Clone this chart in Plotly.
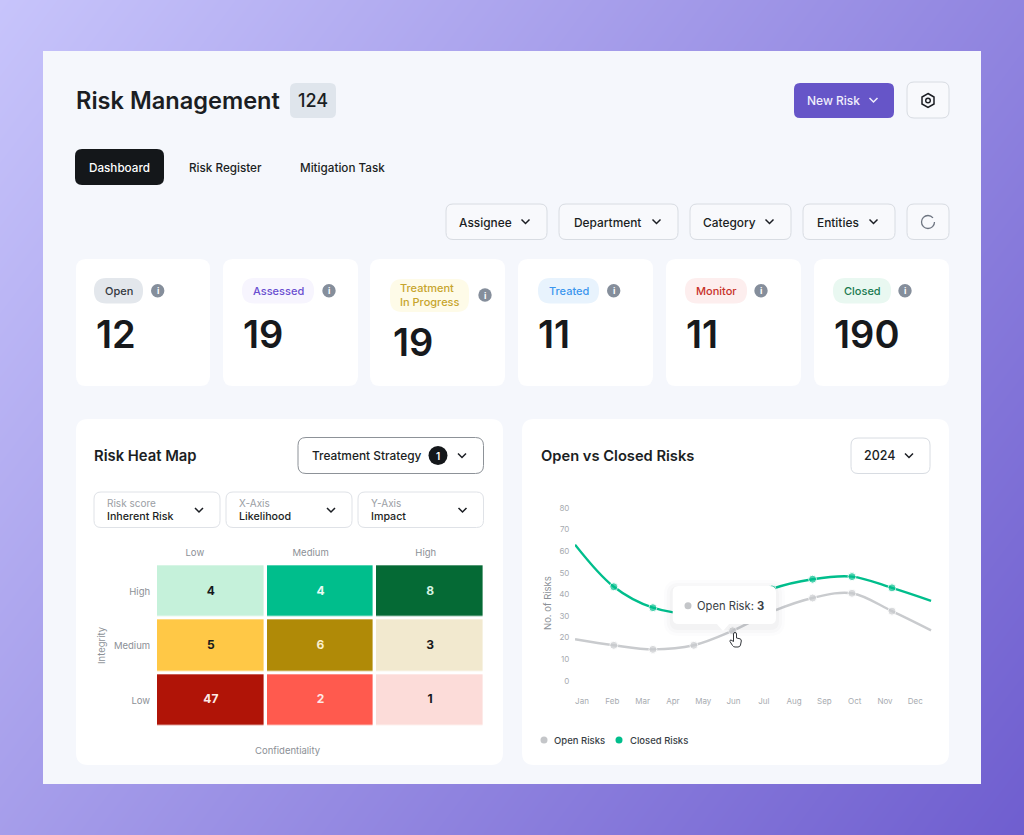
import plotly.graph_objects as go

# dashboard content
status_names = ["Open", "Assessed", "Treatment<br>In Progress", "Treated", "Monitor", "Closed"]
status_counts = ["12", "19", "19", "11", "11", "190"]
filter_names = ["Assignee", "Department", "Category", "Entities"]
tab_names = ["Dashboard", "Risk Register", "Mitigation Task"]
dropdown_labels = ["Risk score", "X-Axis", "Y-Axis"]
dropdown_values = ["Inherent Risk", "Likelihood", "Impact"]

# heat map
heat_columns = ["Low", "Medium", "High"]
heat_rows = ["Low", "Medium", "High"]
heat_low = [47, 2, 1]
heat_medium = [5, 6, 3]
heat_high = [4, 4, 8]
heat_shade_low = [6, 7, 8]
heat_shade_medium = [3, 4, 5]
heat_shade_high = [0, 1, 2]
heat_colors = ["#c5f1da", "#00be8c", "#056a35", "#ffc846", "#b08a07",
               "#f2e9cf", "#b01407", "#ff5a4e", "#fcdcd9"]
heat_text_colors = ["#17191c", "#e9fbf4", "#d5f3e2", "#17191c", "#fbf0cf",
                    "#17191c", "#fde9e6", "#fde9e6", "#17191c"]

# line chart, values
months = ["Jan", "Feb", "Mar", "Apr", "May", "Jun", "Jul", "Aug", "Sep", "Oct", "Nov", "Dec"]
month_ticks = [0, 1, 2, 3, 4, 5, 6, 7, 8, 9, 10, 11]
point_months = [-0.23, 1.05, 2.34, 3.69, 4.97, 6.27, 7.61, 8.91, 10.23, 11.52]
open_risks = [19.2, 16.4, 14.5, 16.4, 23.1, 32.0, 38.3, 40.5, 32.2, 23.3]
closed_risks = [63, 43.5, 33.8, 31, 33.5, 42.5, 47, 48.2, 43, 37]
marker_sizes = [0, 8, 8, 8, 8, 8, 8, 8, 8, 0]

FONT = "Inter"
INK = "#1b1e23"
GREY = "#8b9096"


def rr(x0, y0, x1, y1, r):
    return (f"M{x0 + r},{y0} L{x1 - r},{y0} Q{x1},{y0} {x1},{y0 + r} L{x1},{y1 - r} Q{x1},{y1} {x1 - r},{y1} "
            f"L{x0 + r},{y1} Q{x0},{y1} {x0},{y1 - r} L{x0},{y0 + r} Q{x0},{y0} {x0 + r},{y0} Z")


shapes = []
annotations = []


def box(x0, y0, x1, y1, r=8, fill="white", line=None, layer="below", width=1):
    shapes.append(dict(type="path", path=rr(x0, y0, x1, y1, r), xref="x2", yref="y2", layer=layer,
                       fillcolor=fill, line=dict(color=line or "rgba(0,0,0,0)", width=width)))


def dot(cx, cy, r, fill, layer="below"):
    shapes.append(dict(type="circle", x0=cx - r, x1=cx + r, y0=cy - r, y1=cy + r, xref="x2", yref="y2",
                       layer=layer, fillcolor=fill, line=dict(width=0)))


def chevron(cx, cy, color=INK):
    shapes.append(dict(type="path", path=f"M{cx - 4},{cy - 2} L{cx},{cy + 2} L{cx + 4},{cy - 2}", xref="x2", yref="y2",
                       layer="below", line=dict(color=color, width=1.5)))


def label(x, y, text, size=13, color=INK, weight=500, anchor="center", angle=0):
    # annotations sit 2px inside their anchor
    if anchor == "left":
        x -= 2
    annotations.append(dict(x=x, y=y, xref="x2", yref="y2", text=text, showarrow=False, xanchor=anchor,
                            yanchor="middle", textangle=angle, align="left",
                            font=dict(family=FONT, size=size, color=color, weight=weight)))


# main panel
box(43, 51, 981, 784, r=0, fill="#f5f7fc")

# header
label(75.5, 100, "Risk Management", size=23.6, weight=600, anchor="left")
box(290, 83, 336, 118, r=6, fill="#dfe5ec")
label(313, 100.5, "124", size=18)
box(794, 83, 894, 118, r=6, fill="#6655c8")
label(833, 100, "New Risk", size=12, color="#f0eefc")
chevron(873.5, 100, "#f0eefc")
box(907, 82, 949, 118, r=7, fill="#f8f9fc", line="#d8dce2")
shapes.append(dict(type="path", path="M928,93.5 L934,97 L934,104 L928,107.5 L922,104 L922,97 Z", xref="x2", yref="y2",
                   layer="below", line=dict(color=INK, width=1.5)))
shapes.append(dict(type="circle", x0=925.7, x1=930.3, y0=98.2, y1=102.8, xref="x2", yref="y2", layer="below",
                   line=dict(color=INK, width=1.4)))

# tabs
box(75, 149, 164, 185, r=7, fill="#14171a")
for name, cx, col in zip(tab_names, [119.5, 225.5, 342], ["white", INK, INK]):
    label(cx, 167.5, name, size=11.7, color=col)

# filters
filter_boxes = [(446, 547), (559, 678), (690, 791), (803, 895)]
filter_text_x = [485, 607, 729, 838]
for name, (x0, x1), tx in zip(filter_names, filter_boxes, filter_text_x):
    box(x0, 204, x1, 239.5, r=7, fill="#f8f9fc", line="#d8dce2")
    label(tx, 222, name, size=11.9)
    chevron(x1 - 21.5, 221.5)
box(907, 204, 949, 239.5, r=7, fill="#f8f9fc", line="#d8dce2")
shapes.append(dict(type="path",
                   path="M933,217.9 C931.7,216.4 929.9,215.5 928,215.5 C924.4,215.5 921.5,218.4 921.5,222 "
                        "C921.5,225.6 924.4,228.5 928,228.5 C931.6,228.5 934.5,225.6 934.5,222",
                   xref="x2", yref="y2", layer="below", line=dict(color="#6d7480", width=1.3)))

# status cards
card_edges = [(76, 210), (223, 358), (370, 505), (518, 653), (666, 801), (814, 949)]
pill_edges = [(94, 143), (242, 314), (390, 469), (538, 599), (685, 747), (833, 891)]
pill_fills = ["#e3e7ec", "#f7f5fe", "#fefbe8", "#e8f3fd", "#fdeeee", "#e9f8f1"]
pill_text = ["#33383f", "#6a4fd0", "#c7a52c", "#3b96ee", "#c8322a", "#1a7a50"]
info_x = [157.7, 329, 485, 613.7, 761, 905]
for i, name in enumerate(status_names):
    x0, x1 = card_edges[i]
    box(x0, 259, x1, 386, r=10)
    px0, px1 = pill_edges[i]
    tall = "<br>" in name
    py0, py1 = (279, 312) if tall else (278, 303.5)
    box(px0, py0, px1, py1, r=12.5, fill=pill_fills[i])
    if tall:
        annotations.append(dict(x=398, y=295, xref="x2", yref="y2", text=name, showarrow=False, xanchor="left",
                                yanchor="middle", align="left",
                                font=dict(family=FONT, size=11, color=pill_text[i], weight=500)))
    else:
        label((px0 + px1) / 2, 291, name, size=11, color=pill_text[i])
    iy = 295 if tall else 290.7
    dot(info_x[i], iy, 6.7, "#858e9b")
    label(info_x[i], iy, "i", size=9, color="white", weight=700)
    label(x0 + (22.5 if tall else 20), 342 if tall else 334, status_counts[i], size=38, weight=600, anchor="left",
          color="#17191c")

# lower panels
box(76, 419, 503, 765, r=12)
box(522, 419, 949, 765, r=12)
label(94, 456, "Risk Heat Map", size=14.8, weight=600, anchor="left")
label(541, 456, "Open vs Closed Risks", size=14.7, weight=600, anchor="left")

box(298, 437.5, 483.5, 473.5, r=8, fill="white", line="#8d9298")
label(367, 455.5, "Treatment Strategy", size=11.9)
dot(438, 455.5, 9.5, "#14171a")
label(438, 455.5, "1", size=10, color="white", weight=600)
chevron(462, 455.5)

box(851, 438, 930, 473.5, r=7, fill="white", line="#d8dce2")
label(879, 455.5, "2024", size=12.5)
chevron(909, 455.5)

dropdown_boxes = [(94, 220), (226, 352), (358, 483.5)]
for lab, val, (x0, x1) in zip(dropdown_labels, dropdown_values, dropdown_boxes):
    box(x0, 492, x1, 527.5, r=7, fill="white", line="#dfe2e7")
    label(x0 + 13, 503, lab, size=10, color="#9a9ea4", weight=400, anchor="left")
    label(x0 + 13, 516, val, size=10.7, anchor="left")
    chevron(x1 - 21, 510)

label(101, 645, "Integrity", size=9.5, color=GREY, weight=400, angle=-90)
label(288, 750, "Confidentiality", size=9.5, color=GREY, weight=400)
label(547, 603, "No. of Risks", size=9.5, color=GREY, weight=400, angle=-90)

# legend of the line chart
dot(544, 740, 3.5, "#c4c6c9")
label(554, 740, "Open Risks", size=9.5, color="#3a3f46", anchor="left")
dot(619, 740, 3.5, "#00be8c")
label(630, 740, "Closed Risks", size=9.5, color="#3a3f46", anchor="left")

# tooltip on top of the lines
for grow, alpha in [(9, 0.012), (6, 0.018), (3, 0.025)]:
    box(672.7 - grow, 586 - grow + 3, 776 + grow, 624 + grow + 3, r=6 + grow, fill=f"rgba(40,40,60,{alpha})", layer="above")
shapes.append(dict(type="path", path="M716,623 L723,631 L730,623 Z", xref="x2", yref="y2", layer="above",
                   fillcolor="white", line=dict(width=0)))
box(672.7, 586, 776, 624, r=6, layer="above")
dot(688, 605.7, 3.5, "#c4c6c9", layer="above")
label(696.7, 605.5, "Open Risk: <b>3</b>", size=11.2, color="#3a3f46", weight=400, anchor="left")

# hand cursor
shapes.append(dict(type="path",
                   path="M733.5,634 Q733.5,632.5 735,632.5 Q736.5,632.5 736.5,634 L736.5,638 L740,638.8 "
                        "Q741.5,639.3 741.3,641 L740.5,645 Q740,647 738,647 L735,647 Q733.5,647 732.5,645.5 "
                        "L730,641.5 Q729.5,640 731,640 L733.5,641.5 Z",
                   xref="x2", yref="y2", layer="above", fillcolor="white", line=dict(color="#33363b", width=1)))

# hover guide of the line chart
shapes.append(dict(type="line", xref="x3", yref="y3 domain", x0=5, x1=5, y0=0, y1=1, layer="below",
                   line=dict(color="#8d82e0", width=1, dash="dot")))

fig = go.Figure()

# page gradient
fig.add_trace(go.Heatmap(x=[0, 1024], y=[0, 835], z=[[0, 0.62], [0.38, 1]], zsmooth="best", showscale=False,
                         colorscale=[[0, "#c7c4fb"], [1, "#6f5ecf"]], hoverinfo="skip", xaxis="x", yaxis="y"))
fig.add_trace(go.Scatter(x=[None], y=[None], xaxis="x2", yaxis="y2", showlegend=False))

fig.add_trace(go.Scatter(x=point_months, y=open_risks, mode="lines+markers", name="Open Risks", xaxis="x3", yaxis="y3",
                         line=dict(color="#c9cbce", width=2.4, shape="spline"),
                         marker=dict(size=marker_sizes, color="#c9cbce"), showlegend=False))
fig.add_trace(go.Scatter(x=point_months, y=closed_risks, mode="lines+markers", name="Closed Risks", xaxis="x3", yaxis="y3",
                         line=dict(color="#00be8c", width=2.4, shape="spline"),
                         marker=dict(size=marker_sizes, color="#00be8c"), showlegend=False))

# heat map cells, colours are per cell so z is only an index into heat_colors
n = len(heat_colors)
heat_scale = []
for i, c in enumerate(heat_colors):
    heat_scale.append([i / n, c])
    heat_scale.append([(i + 1) / n, c])
fig.add_trace(go.Heatmap(x=[0, 1, 2], y=heat_rows, z=[heat_shade_low, heat_shade_medium, heat_shade_high],
                         colorscale=heat_scale, zmin=-0.5, zmax=n - 0.5, showscale=False, xgap=3.4, ygap=3.4,
                         hoverinfo="skip", xaxis="x4", yaxis="y4"))
cell_x, cell_y, cell_text, cell_color = [], [], [], []
for row, counts, shades in zip(heat_rows, [heat_low, heat_medium, heat_high],
                               [heat_shade_low, heat_shade_medium, heat_shade_high]):
    for col, (count, shade) in enumerate(zip(counts, shades)):
        cell_x.append(col)
        cell_y.append(row)
        cell_text.append(str(count))
        cell_color.append(heat_text_colors[shade])
fig.add_trace(go.Scatter(x=cell_x, y=cell_y, mode="text", text=cell_text, showlegend=False, xaxis="x4", yaxis="y4",
                         textfont=dict(family=FONT, size=12, color=cell_color, weight=700)))

hidden = dict(visible=False, fixedrange=True)
tick_font = dict(family=FONT, size=8, color="#a7abb0")
heat_font = dict(family=FONT, size=9.5, color=GREY)
fig.update_layout(
    width=1024, height=835, margin=dict(l=0, r=0, t=0, b=0), showlegend=False,
    paper_bgcolor="#8f83e4", plot_bgcolor="rgba(0,0,0,0)",
    shapes=shapes, annotations=annotations,
    xaxis=dict(domain=[0, 1], range=[0, 1024], **hidden),
    yaxis=dict(domain=[0, 1], range=[835, 0], **hidden),
    xaxis2=dict(domain=[0, 1], range=[0, 1024], anchor="y2", **hidden),
    yaxis2=dict(domain=[0, 1], range=[835, 0], anchor="x2", **hidden),
    xaxis3=dict(domain=[575 / 1024, 935 / 1024], range=[-0.231, 11.65], anchor="y3", showgrid=False, zeroline=False,
                tickmode="array", tickvals=month_ticks, ticktext=months, ticks="outside", ticklen=4,
                tickcolor="rgba(0,0,0,0)", tickfont=tick_font, fixedrange=True),
    yaxis3=dict(domain=[1 - 689 / 835, 1 - 498 / 835], range=[-3.84, 84.6], anchor="x3", showgrid=False, zeroline=False,
                tickmode="array", tickvals=[0, 10, 20, 30, 40, 50, 60, 70, 80], ticks="outside", ticklen=3,
                tickcolor="rgba(0,0,0,0)", tickfont=tick_font, fixedrange=True),
    xaxis4=dict(domain=[156 / 1024, 485 / 1024], range=[-0.5, 2.5], anchor="y4", side="top", showgrid=False,
                zeroline=False, tickmode="array", tickvals=[-0.146, 0.91, 1.96], ticktext=heat_columns, ticks="outside",
                ticklen=4, tickcolor="rgba(0,0,0,0)", tickfont=heat_font, fixedrange=True),
    yaxis4=dict(domain=[1 - 727.7 / 835, 1 - 564.3 / 835], anchor="x4", showgrid=False, zeroline=False,
                type="category", categoryorder="array", categoryarray=heat_rows, ticks="outside", ticklen=3,
                tickcolor="rgba(0,0,0,0)", tickfont=heat_font, fixedrange=True),
)

fig.write_html("out.html", config={"displayModeBar": False},
               post_script="document.body.style.margin='0';document.body.style.overflow='hidden';")
